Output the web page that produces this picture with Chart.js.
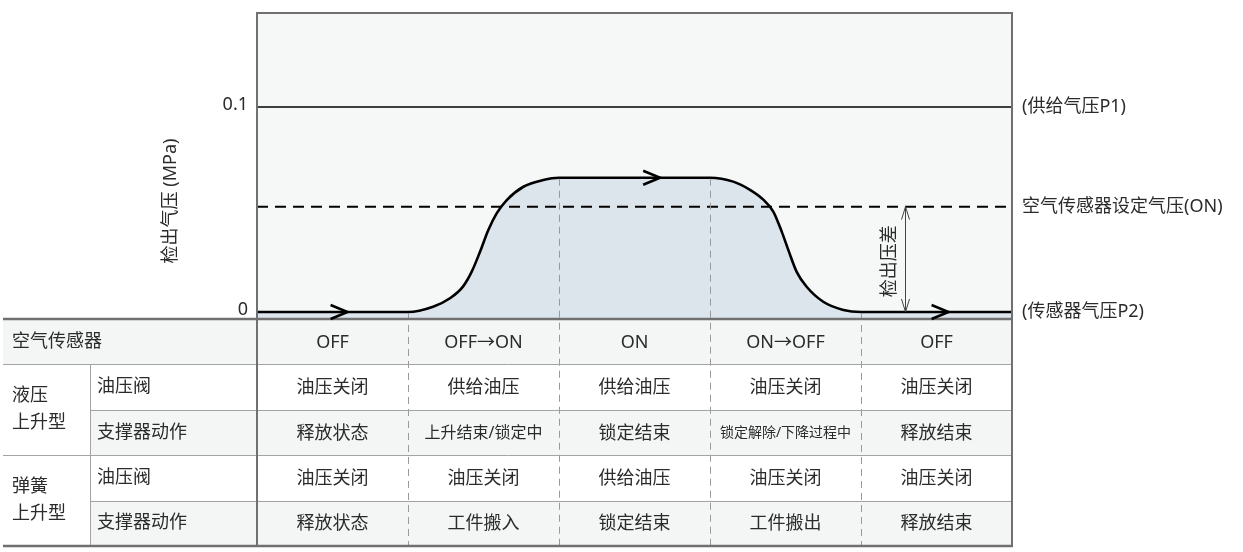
<!DOCTYPE html>
<html lang="zh-CN">
<head>
<meta charset="utf-8">
<title>空气传感器检出气压</title>
<script src="https://cdn.jsdelivr.net/npm/chart.js@4.4.1/dist/chart.umd.min.js"></script>
<style>
  html, body { margin: 0; padding: 0; background: #fff; }
</style>
</head>
<body>
<canvas id="grafico" width="1243" height="552"></canvas>
<script>
// ===== Datos =====
// eje x: 0..5 = las cinco fases de la tabla
const curveX = [0, 1.0, 1.166, 1.278, 1.364, 1.422, 1.477, 1.532, 1.587, 1.654, 1.764, 1.896, 2.0,
                3.0, 3.154, 3.265, 3.353, 3.419, 3.475, 3.519, 3.574, 3.640, 3.750, 3.883, 4.0, 5.0];
const curveY = [0, 0, 0.0026, 0.0067, 0.0124, 0.0197, 0.0294, 0.0400, 0.0481, 0.0546, 0.0611, 0.0644, 0.0655,
                0.0655, 0.0636, 0.0596, 0.0548, 0.0490, 0.0392, 0.0302, 0.0196, 0.0123, 0.0050, 0.0010, 0, 0];
const supplyPressure = 0.1;     // 供给气压P1
const setPressure = 0.0514;     // 空气传感器设定气压(ON)
const yTicks = [0, 0.1];
const yTitle = "检出气压 (MPa)";
const refLabels = ["(供给气压P1)", "空气传感器设定气压(ON)", "(传感器气压P2)"];
const diffLabel = "检出压差";
const diffX = 4.29;
const arrowX = [0.6, 2.67, 4.58];

const sensorLabel = "空气传感器";
const groupLabels = [["液压", "上升型"], ["弹簧", "上升型"]];
const subLabels = ["油压阀", "支撑器动作"];
const sensorStates = ["OFF", "OFF→ON", "ON", "ON→OFF", "OFF"];
const hydValve = ["油压关闭", "供给油压", "供给油压", "油压关闭", "油压关闭"];
const hydSupport = ["释放状态", "上升结束/锁定中", "锁定结束", "锁定解除/下降过程中", "释放结束"];
const springValve = ["油压关闭", "油压关闭", "供给油压", "油压关闭", "油压关闭"];
const springSupport = ["释放状态", "工件搬入", "锁定结束", "工件搬出", "释放结束"];

// ===== Estilos =====
const FONT = '"Noto Sans", "Noto Sans CJK SC", sans-serif';
const TEXT = "#2b2b2b";
const FRAME = "#707070";
const GRID = "#a3a3a3";
const TABLE_LEFT = 3;
const SUB_LEFT = 90;
const ROW_H = 45.4;

// valor de la curva en x (lectura lineal entre los puntos leídos)
function curveAt(x) {
  for (let i = 0; i < curveX.length - 1; i++) {
    if (x >= curveX[i] && x <= curveX[i + 1]) {
      const t = (x - curveX[i]) / (curveX[i + 1] - curveX[i]);
      return curveY[i] + t * (curveY[i + 1] - curveY[i]);
    }
  }
  return 0;
}

function hLine(ctx, x1, x2, y, color, w) {
  ctx.beginPath();
  ctx.strokeStyle = color;
  ctx.lineWidth = w;
  ctx.moveTo(x1, y);
  ctx.lineTo(x2, y);
  ctx.stroke();
}
function vLine(ctx, x, y1, y2, color, w) {
  ctx.beginPath();
  ctx.strokeStyle = color;
  ctx.lineWidth = w;
  ctx.moveTo(x, y1);
  ctx.lineTo(x, y2);
  ctx.stroke();
}

const diagramPlugin = {
  id: "diagram",
  beforeDraw(chart) {
    const { ctx, chartArea: a } = chart;
    ctx.save();
    ctx.fillStyle = "#f6f8f8";
    ctx.fillRect(a.left, a.top, a.right - a.left, a.bottom - a.top);
    // sombreado de filas de la tabla
    ctx.fillStyle = "#f4f6f6";
    ctx.fillRect(TABLE_LEFT, a.bottom, a.right - TABLE_LEFT, ROW_H);
    ctx.fillRect(SUB_LEFT, a.bottom + 2 * ROW_H, a.right - SUB_LEFT, ROW_H);
    ctx.fillRect(SUB_LEFT, a.bottom + 4 * ROW_H, a.right - SUB_LEFT, ROW_H);
    ctx.restore();
  },
  afterDatasetsDraw(chart) {
    const { ctx, chartArea: a } = chart;
    const xs = chart.scales.x, ys = chart.scales.y;
    const top = a.bottom;
    const bottom = a.bottom + 5 * ROW_H;
    ctx.save();

    // líneas verticales discontinuas entre fases
    ctx.setLineDash([7, 5]);
    for (let i = 1; i < sensorStates.length; i++) {
      const px = Math.round(xs.getPixelForValue(i)) + 0.5;
      vLine(ctx, px, ys.getPixelForValue(curveAt(i)) + 1, bottom, "#9a9a9a", 1);
    }
    ctx.setLineDash([]);

    // líneas de la tabla
    hLine(ctx, TABLE_LEFT, a.right, Math.round(top + ROW_H) + 0.5, GRID, 1);
    hLine(ctx, SUB_LEFT, a.right, Math.round(top + 2 * ROW_H) + 0.5, GRID, 1);
    hLine(ctx, TABLE_LEFT, a.right, Math.round(top + 3 * ROW_H) + 0.5, GRID, 1);
    hLine(ctx, SUB_LEFT, a.right, Math.round(top + 4 * ROW_H) + 0.5, GRID, 1);
    vLine(ctx, SUB_LEFT + 0.5, top + ROW_H, bottom, GRID, 1);

    // marco
    hLine(ctx, TABLE_LEFT, a.right + 1, top, FRAME, 2.5);
    hLine(ctx, TABLE_LEFT, a.right + 1, bottom, FRAME, 2.5);
    hLine(ctx, a.left - 1, a.right + 1, a.top, FRAME, 2);
    vLine(ctx, a.left, a.top, bottom + 1, FRAME, 2);
    vLine(ctx, a.right, a.top, bottom + 1, FRAME, 2);

    // textos de la tabla
    ctx.fillStyle = TEXT;
    ctx.textBaseline = "middle";
    ctx.textAlign = "left";
    ctx.font = "18px " + FONT;
    ctx.fillText(sensorLabel, 12, top + ROW_H / 2);
    groupLabels.forEach((g, gi) => {
      const cy = top + ROW_H * (2 + gi * 2);
      ctx.fillText(g[0], 12, cy - 13.5);
      ctx.fillText(g[1], 12, cy + 13.5);
      subLabels.forEach((s, si) => {
        ctx.fillText(s, 97, top + ROW_H * (1.5 + gi * 2 + si));
      });
    });
    const rows = [sensorStates, hydValve, hydSupport, springValve, springSupport];
    ctx.textAlign = "center";
    rows.forEach((row, r) => {
      row.forEach((txt, c) => {
        const size = txt.length > 9 ? 14 : (txt.length > 6 ? 16 : 18);
        ctx.font = size + "px " + FONT;
        const cx = (xs.getPixelForValue(c) + xs.getPixelForValue(c + 1)) / 2;
        ctx.fillText(txt, cx, top + ROW_H * (r + 0.5) + 1);
      });
    });

    // flechas sobre la curva
    ctx.strokeStyle = "#000";
    ctx.lineWidth = 2.5;
    ctx.lineJoin = "miter";
    arrowX.forEach(v => {
      const px = xs.getPixelForValue(v), py = ys.getPixelForValue(curveAt(v));
      ctx.beginPath();
      ctx.moveTo(px - 17, py - 7);
      ctx.lineTo(px, py);
      ctx.lineTo(px - 17, py + 7);
      ctx.stroke();
    });

    // flecha doble del diferencial
    const dx = Math.round(xs.getPixelForValue(diffX)) + 0.5;
    const dy1 = ys.getPixelForValue(setPressure), dy2 = ys.getPixelForValue(0);
    ctx.strokeStyle = "#444";
    ctx.lineWidth = 1;
    ctx.beginPath();
    ctx.moveTo(dx, dy1); ctx.lineTo(dx, dy2);
    ctx.moveTo(dx - 4, dy1 + 13); ctx.lineTo(dx, dy1); ctx.lineTo(dx + 4, dy1 + 13);
    ctx.moveTo(dx - 4, dy2 - 13); ctx.lineTo(dx, dy2); ctx.lineTo(dx + 4, dy2 - 13);
    ctx.stroke();
    ctx.save();
    ctx.translate(dx - 16, (dy1 + dy2) / 2 + 2);
    ctx.rotate(-Math.PI / 2);
    ctx.fillStyle = TEXT;
    ctx.font = "18px " + FONT;
    ctx.textAlign = "center";
    ctx.fillText(diffLabel, 0, 0);
    ctx.restore();

    // etiquetas a la derecha
    ctx.fillStyle = TEXT;
    ctx.textAlign = "left";
    ctx.font = "18px " + FONT;
    [supplyPressure, setPressure, 0].forEach((v, i) => {
      ctx.fillText(refLabels[i], a.right + 10, ys.getPixelForValue(v));
    });

    // título del eje y
    ctx.save();
    ctx.translate(171, 201);
    ctx.rotate(-Math.PI / 2);
    ctx.textAlign = "center";
    ctx.font = "18px " + FONT;
    ctx.fillText(yTitle, 0, 0);
    ctx.restore();

    ctx.restore();
  }
};

const lineData = (ys) => [{ x: 0, y: ys }, { x: sensorStates.length, y: ys }];

const grafico = new Chart(document.getElementById("grafico"), {
  type: "line",
  data: {
    datasets: [
      {
        label: "检出气压",
        data: curveX.map((x, i) => ({ x, y: curveY[i] })),
        borderColor: "#000",
        borderWidth: 2.6,
        backgroundColor: "#dce5ec",
        fill: "start",
        pointRadius: 0,
        cubicInterpolationMode: "monotone"
      },
      {
        label: "供给气压P1",
        data: lineData(supplyPressure),
        borderColor: "#000",
        borderWidth: 1.3,
        pointRadius: 0,
        fill: false
      },
      {
        label: "设定气压",
        data: lineData(setPressure),
        borderColor: "#000",
        borderWidth: 2,
        borderDash: [11, 7],
        pointRadius: 0,
        fill: false
      }
    ]
  },
  options: {
    responsive: false,
    animation: false,
    layout: { padding: { left: 0, right: 231, top: 13, bottom: 233 } },
    plugins: {
      legend: { display: false },
      tooltip: { enabled: false },
      filler: { drawTime: "beforeDatasetsDraw" }
    },
    scales: {
      x: { type: "linear", min: 0, max: sensorStates.length, display: false },
      y: {
        type: "linear",
        min: -0.00341,
        max: 0.14585,
        afterBuildTicks: (scale) => { scale.ticks = yTicks.map(v => ({ value: v })); },
        afterFit: (scale) => {
          scale.width = 257;
          scale.paddingTop = 0;
          scale.paddingBottom = 0;
        },
        grid: { display: false, drawTicks: false },
        border: { display: false },
        ticks: {
          padding: 9,
          labelOffset: -2,
          color: TEXT,
          font: { family: FONT, size: 18 },
          callback: (v) => String(v)
        }
      }
    }
  },
  plugins: [diagramPlugin]
});
</script>
</body>
</html>
